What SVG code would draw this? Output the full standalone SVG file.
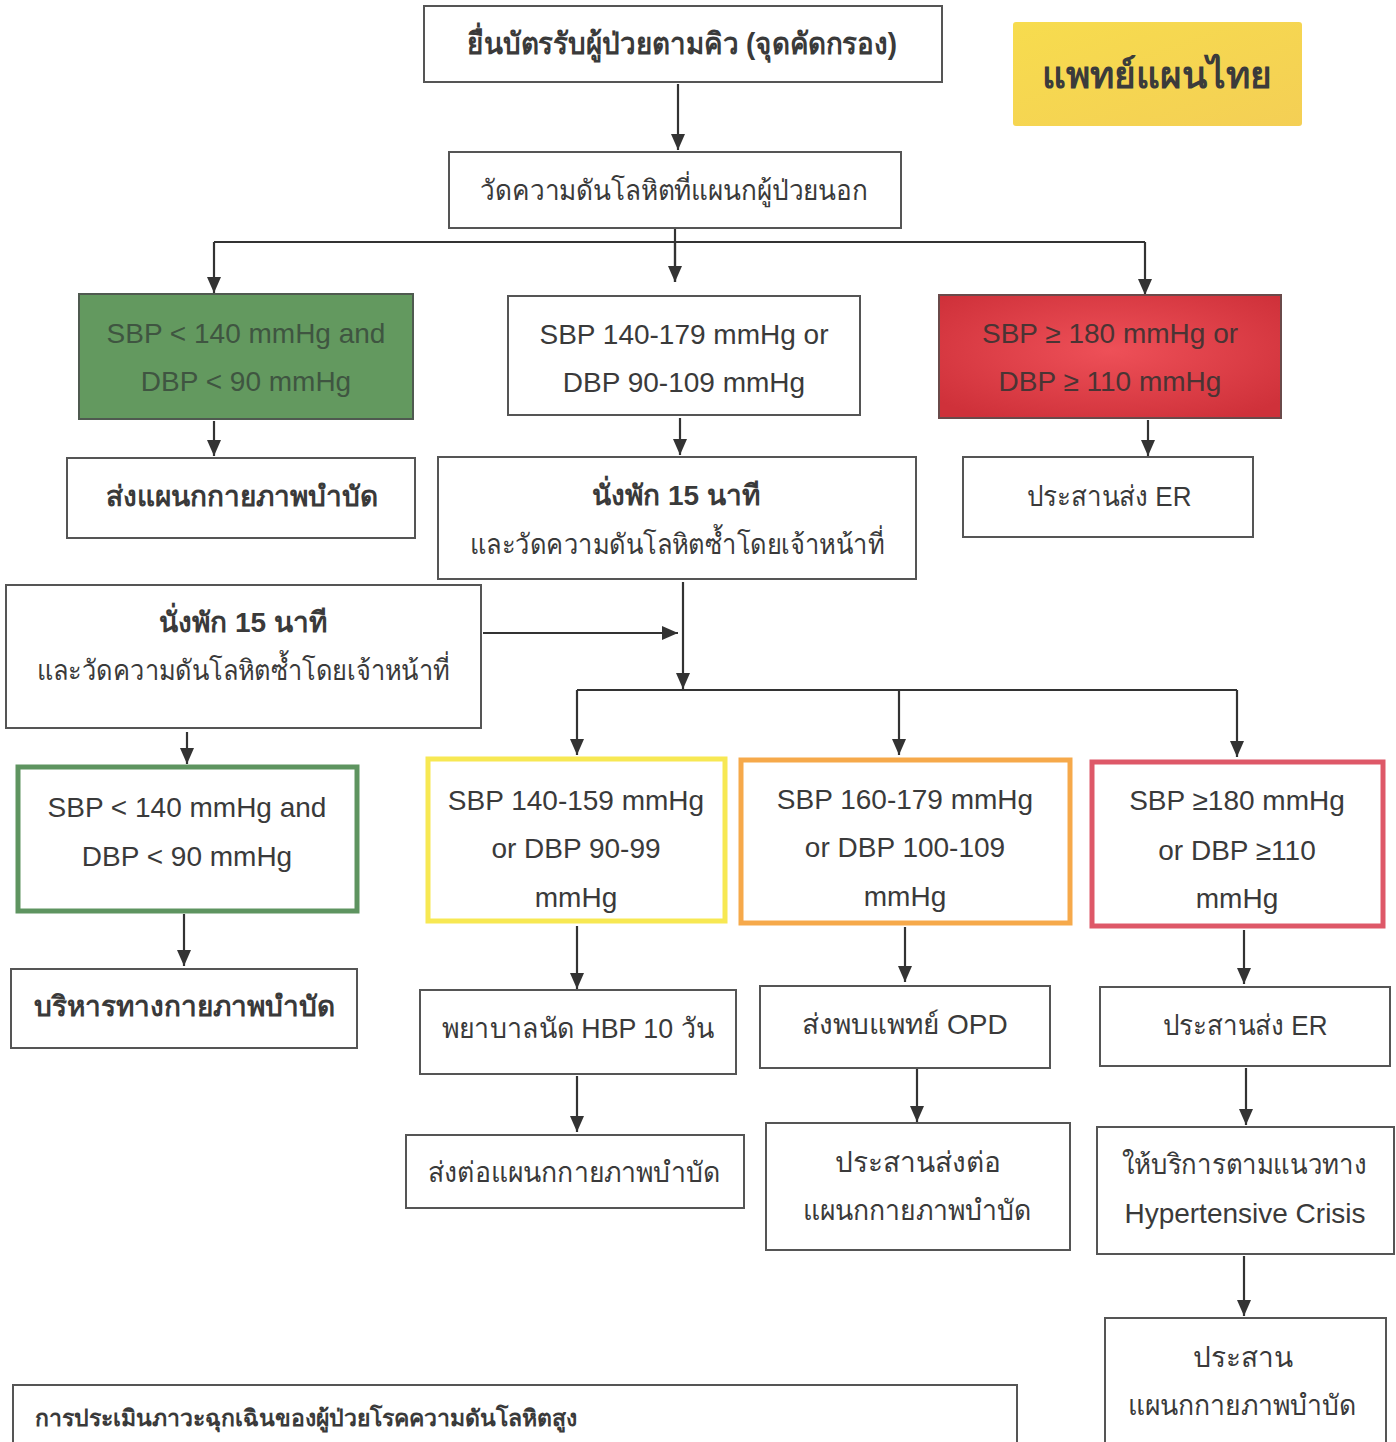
<svg xmlns="http://www.w3.org/2000/svg" width="1396" height="1442" viewBox="0 0 1396 1442">
  <style>
    text { font-family: "Liberation Sans", "Noto Sans", "DejaVu Sans", sans-serif; fill: #3a3a3a; text-anchor: middle; }
    .t28 { font-size: 28px; }
    .b { font-weight: bold; }
    .box { fill: #ffffff; stroke: #555555; stroke-width: 2; }
    .edge { fill: none; stroke: #333333; stroke-width: 2.2; }
    .dim { fill: #3f5541; }
  </style>
  <defs>
    <marker id="arrow" markerUnits="userSpaceOnUse" markerWidth="16" markerHeight="16" refX="16" refY="8" orient="auto">
      <path d="M0,1 L16,8 L0,15 z" fill="#333333"/>
    </marker>
    <radialGradient id="redFill" cx="0.5" cy="0.45" r="0.65">
      <stop offset="0" stop-color="#ee5058"/>
      <stop offset="1" stop-color="#cf313a"/>
    </radialGradient>
    <linearGradient id="goldFill" x1="0" y1="0" x2="1" y2="1">
      <stop offset="0" stop-color="#f7dc4e"/>
      <stop offset="1" stop-color="#f4cf55"/>
    </linearGradient>
  </defs>

  <rect width="1396" height="1442" fill="#ffffff"/>

  <!-- connectors -->
  <g id="connectors">
    <path class="edge" d="M678,84 V150" marker-end="url(#arrow)"/>
    <path class="edge" d="M675,228 V282"/>
    <path class="edge" d="M675,242 V282" marker-end="url(#arrow)"/>
    <path class="edge" d="M214,242 H1145"/>
    <path class="edge" d="M214,242 V293" marker-end="url(#arrow)"/>
    <path class="edge" d="M1145,242 V295" marker-end="url(#arrow)"/>

    <path class="edge" d="M214,421 V456" marker-end="url(#arrow)"/>
    <path class="edge" d="M680,418 V455" marker-end="url(#arrow)"/>
    <path class="edge" d="M1148,420 V456" marker-end="url(#arrow)"/>

    <path class="edge" d="M683,582 V689" marker-end="url(#arrow)"/>
    <path class="edge" d="M483,633 H678" marker-end="url(#arrow)"/>
    <path class="edge" d="M577,690 H1237"/>
    <path class="edge" d="M577,690 V755" marker-end="url(#arrow)"/>
    <path class="edge" d="M899,690 V755" marker-end="url(#arrow)"/>
    <path class="edge" d="M1237,690 V757" marker-end="url(#arrow)"/>

    <path class="edge" d="M187,732 V764" marker-end="url(#arrow)"/>
    <path class="edge" d="M184,914 V966" marker-end="url(#arrow)"/>
    <path class="edge" d="M577,926 V989" marker-end="url(#arrow)"/>
    <path class="edge" d="M905,927 V982" marker-end="url(#arrow)"/>
    <path class="edge" d="M1244,930 V984" marker-end="url(#arrow)"/>

    <path class="edge" d="M577,1076 V1132" marker-end="url(#arrow)"/>
    <path class="edge" d="M917,1069 V1122" marker-end="url(#arrow)"/>
    <path class="edge" d="M1246,1068 V1125" marker-end="url(#arrow)"/>
    <path class="edge" d="M1244,1256 V1316" marker-end="url(#arrow)"/>
  </g>

  <!-- start: queue / screening -->
  <g id="n-queue">
    <rect class="box" x="424" y="6" width="518" height="76"/>
    <text class="b" x="682" y="54" style="font-size:30px" textLength="430" lengthAdjust="spacingAndGlyphs">ยื่นบัตรรับผู้ป่วยตามคิว (จุดคัดกรอง)</text>
  </g>

  <g id="n-label">
    <rect x="1013" y="22" width="289" height="104" rx="3" fill="url(#goldFill)"/>
    <text class="b" x="1157" y="88" style="font-size:37px;fill:#3b3b3b">แพทย์แผนไทย</text>
  </g>

  <g id="n-measure">
    <rect class="box" x="449" y="152" width="452" height="76"/>
    <text class="t28" x="674" y="200" textLength="388" lengthAdjust="spacingAndGlyphs">วัดความดันโลหิตที่แผนกผู้ป่วยนอก</text>
  </g>

  <!-- first reading -->
  <g id="n-normal">
    <rect x="79" y="294" width="334" height="125" fill="#63995f" stroke="#4f5a50" stroke-width="2"/>
    <text class="t28 dim" x="246" y="343">SBP &lt; 140 mmHg and</text>
    <text class="t28 dim" x="246" y="391">DBP &lt; 90 mmHg</text>
  </g>

  <g id="n-high">
    <rect class="box" x="508" y="296" width="352" height="119"/>
    <text class="t28" x="684" y="344">SBP 140-179 mmHg or</text>
    <text class="t28" x="684" y="392">DBP 90-109 mmHg</text>
  </g>

  <g id="n-severe">
    <rect x="939" y="295" width="342" height="123" fill="url(#redFill)" stroke="#6a4a4a" stroke-width="2"/>
    <text class="t28" x="1110" y="343" style="fill:#4a3434">SBP ≥ 180 mmHg or</text>
    <text class="t28" x="1110" y="391" style="fill:#4a3434">DBP ≥ 110 mmHg</text>
  </g>

  <g id="n-physio1">
    <rect class="box" x="67" y="458" width="348" height="80"/>
    <text class="t28 b" x="242" y="506">ส่งแผนกกายภาพบำบัด</text>
  </g>

  <g id="n-rest1">
    <rect class="box" x="438" y="457" width="478" height="122"/>
    <text class="t28 b" x="676" y="505">นั่งพัก 15 นาที</text>
    <text class="t28" x="677" y="554" textLength="414" lengthAdjust="spacingAndGlyphs">และวัดความดันโลหิตซ้ำโดยเจ้าหน้าที่</text>
  </g>

  <g id="n-er1">
    <rect class="box" x="963" y="457" width="290" height="80"/>
    <text class="t28" x="1109" y="506" textLength="165" lengthAdjust="spacingAndGlyphs">ประสานส่ง ER</text>
  </g>

  <!-- repeat reading -->
  <g id="n-rest2">
    <rect class="box" x="6" y="585" width="475" height="143"/>
    <text class="t28 b" x="243" y="632">นั่งพัก 15 นาที</text>
    <text class="t28" x="243" y="680" textLength="413" lengthAdjust="spacingAndGlyphs">และวัดความดันโลหิตซ้ำโดยเจ้าหน้าที่</text>
  </g>

  <g id="n-normal2">
    <rect x="18" y="767" width="339" height="144" fill="#ffffff" stroke="#5e9460" stroke-width="5"/>
    <text class="t28" x="187" y="817">SBP &lt; 140 mmHg and</text>
    <text class="t28" x="187" y="866">DBP &lt; 90 mmHg</text>
  </g>

  <g id="n-stage1">
    <rect x="428" y="759" width="297" height="162" fill="#ffffff" stroke="#f7e853" stroke-width="5"/>
    <text class="t28" x="576" y="810">SBP 140-159 mmHg</text>
    <text class="t28" x="576" y="858">or DBP 90-99</text>
    <text class="t28" x="576" y="907">mmHg</text>
  </g>

  <g id="n-stage2">
    <rect x="741" y="760" width="329" height="163" fill="#ffffff" stroke="#f6a94a" stroke-width="5"/>
    <text class="t28" x="905" y="809">SBP 160-179 mmHg</text>
    <text class="t28" x="905" y="857">or DBP 100-109</text>
    <text class="t28" x="905" y="906">mmHg</text>
  </g>

  <g id="n-crisis">
    <rect x="1092" y="762" width="291" height="164" fill="#ffffff" stroke="#de5868" stroke-width="5"/>
    <text class="t28" x="1237" y="810">SBP ≥180 mmHg</text>
    <text class="t28" x="1237" y="860">or DBP ≥110</text>
    <text class="t28" x="1237" y="908">mmHg</text>
  </g>

  <!-- actions -->
  <g id="n-exercise">
    <rect class="box" x="11" y="969" width="346" height="79"/>
    <text class="t28 b" x="184" y="1016">บริหารทางกายภาพบำบัด</text>
  </g>

  <g id="n-hbp">
    <rect class="box" x="420" y="990" width="316" height="84"/>
    <text class="t28" x="578" y="1038" textLength="272" lengthAdjust="spacingAndGlyphs">พยาบาลนัด HBP 10 วัน</text>
  </g>

  <g id="n-opd">
    <rect class="box" x="760" y="986" width="290" height="82"/>
    <text class="t28" x="905" y="1034">ส่งพบแพทย์ OPD</text>
  </g>

  <g id="n-er2">
    <rect class="box" x="1100" y="987" width="290" height="79"/>
    <text class="t28" x="1245" y="1035" textLength="165" lengthAdjust="spacingAndGlyphs">ประสานส่ง ER</text>
  </g>

  <g id="n-physio2">
    <rect class="box" x="406" y="1135" width="338" height="73"/>
    <text class="t28" x="574" y="1182" textLength="292" lengthAdjust="spacingAndGlyphs">ส่งต่อแผนกกายภาพบำบัด</text>
  </g>

  <g id="n-physio3">
    <rect class="box" x="766" y="1123" width="304" height="127"/>
    <text class="t28" x="918" y="1172">ประสานส่งต่อ</text>
    <text class="t28" x="917" y="1220" textLength="229" lengthAdjust="spacingAndGlyphs">แผนกกายภาพบำบัด</text>
  </g>

  <g id="n-guideline">
    <rect class="box" x="1097" y="1127" width="297" height="127"/>
    <text class="t28" x="1244" y="1174" textLength="245" lengthAdjust="spacingAndGlyphs">ให้บริการตามแนวทาง</text>
    <text class="t28" x="1245" y="1223">Hypertensive Crisis</text>
  </g>

  <g id="n-physio4">
    <rect class="box" x="1105" y="1318" width="281" height="140"/>
    <text class="t28" x="1243" y="1367">ประสาน</text>
    <text class="t28" x="1242" y="1415" textLength="229" lengthAdjust="spacingAndGlyphs">แผนกกายภาพบำบัด</text>
  </g>

  <!-- emergency assessment panel -->
  <g id="n-assessment">
    <rect class="box" x="13" y="1385" width="1004" height="80"/>
    <text class="b" x="35" y="1426" style="font-size:23px;text-anchor:start">การประเมินภาวะฉุกเฉินของผู้ป่วยโรคความดันโลหิตสูง</text>
  </g>
</svg>
